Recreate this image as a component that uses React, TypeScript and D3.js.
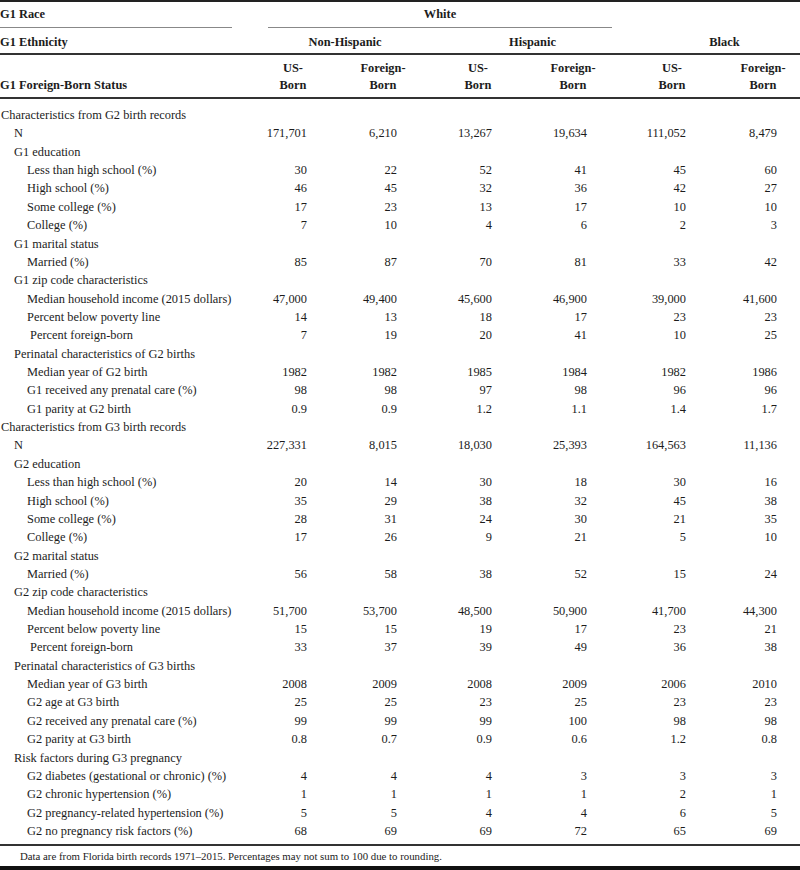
import React from "react"
import * as d3 from "d3"

// header structure
const raceGroups = [
  { label: "White", cols: [0, 3] },
  { label: "Black", cols: [4, 5] },
]
const ethnicGroups = [
  { label: "Non-Hispanic", cols: [0, 1] },
  { label: "Hispanic", cols: [2, 3] },
  { label: "Black", cols: [4, 5] },
]
const statusLabels = [
  ["US-", "Born"], ["Foreign-", "Born"],
  ["US-", "Born"], ["Foreign-", "Born"],
  ["US-", "Born"], ["Foreign-", "Born"],
]

const rowLabels = [
  "Characteristics from G2 birth records",
  "N",
  "G1 education",
  "Less than high school (%)",
  "High school (%)",
  "Some college (%)",
  "College (%)",
  "G1 marital status",
  "Married (%)",
  "G1 zip code characteristics",
  "Median household income (2015 dollars)",
  "Percent below poverty line",
  "\u00a0Percent foreign-born",
  "Perinatal characteristics of G2 births",
  "Median year of G2 birth",
  "G1 received any prenatal care (%)",
  "G1 parity at G2 birth",
  "Characteristics from G3 birth records",
  "N",
  "G2 education",
  "Less than high school (%)",
  "High school (%)",
  "Some college (%)",
  "College (%)",
  "G2 marital status",
  "Married (%)",
  "G2 zip code characteristics",
  "Median household income (2015 dollars)",
  "Percent below poverty line",
  "\u00a0Percent foreign-born",
  "Perinatal characteristics of G3 births",
  "Median year of G3 birth",
  "G2 age at G3 birth",
  "G2 received any prenatal care (%)",
  "G2 parity at G3 birth",
  "Risk factors during G3 pregnancy",
  "G2 diabetes (gestational or chronic) (%)",
  "G2 chronic hypertension (%)",
  "G2 pregnancy-related hypertension (%)",
  "G2 no pregnancy risk factors (%)",
]

// hierarchy depth of each row
const rowDepth = [
  0, 1, 1, 2, 2, 2, 2, 1, 2, 1, 2, 2, 2, 1, 2, 2, 2,
  0, 1, 1, 2, 2, 2, 2, 1, 2, 1, 2, 2, 2, 1, 2, 2, 2, 2, 1, 2, 2, 2, 2,
]

const rowValues: (string[] | null)[] = [
  null,
  ["171,701", "6,210", "13,267", "19,634", "111,052", "8,479"],
  null,
  ["30", "22", "52", "41", "45", "60"],
  ["46", "45", "32", "36", "42", "27"],
  ["17", "23", "13", "17", "10", "10"],
  ["7", "10", "4", "6", "2", "3"],
  null,
  ["85", "87", "70", "81", "33", "42"],
  null,
  ["47,000", "49,400", "45,600", "46,900", "39,000", "41,600"],
  ["14", "13", "18", "17", "23", "23"],
  ["7", "19", "20", "41", "10", "25"],
  null,
  ["1982", "1982", "1985", "1984", "1982", "1986"],
  ["98", "98", "97", "98", "96", "96"],
  ["0.9", "0.9", "1.2", "1.1", "1.4", "1.7"],
  null,
  ["227,331", "8,015", "18,030", "25,393", "164,563", "11,136"],
  null,
  ["20", "14", "30", "18", "30", "16"],
  ["35", "29", "38", "32", "45", "38"],
  ["28", "31", "24", "30", "21", "35"],
  ["17", "26", "9", "21", "5", "10"],
  null,
  ["56", "58", "38", "52", "15", "24"],
  null,
  ["51,700", "53,700", "48,500", "50,900", "41,700", "44,300"],
  ["15", "15", "19", "17", "23", "21"],
  ["33", "37", "39", "49", "36", "38"],
  null,
  ["2008", "2009", "2008", "2009", "2006", "2010"],
  ["25", "25", "23", "25", "23", "23"],
  ["99", "99", "99", "100", "98", "98"],
  ["0.8", "0.7", "0.9", "0.6", "1.2", "0.8"],
  null,
  ["4", "4", "4", "3", "3", "3"],
  ["1", "1", "1", "1", "2", "1"],
  ["5", "5", "4", "4", "6", "5"],
  ["68", "69", "69", "72", "65", "69"],
]

const footnote =
  "Data are from Florida birth records 1971\u20132015. Percentages may not sum to 100 due to rounding."

const W = 800
const H = 870
const font = "'Liberation Serif', 'Times New Roman', serif"
const ink = "#1c1c1c"

export default function App() {
  const colIdx = d3.range(6)
  // right edge of each value column
  const xCol = d3.scaleOrdinal<number, number>().domain(colIdx).range([307, 397, 492, 587, 686, 777])
  const xHead = (i: number) => xCol(i) - 14
  const yRow = d3.scalePoint<number>().domain(d3.range(rowLabels.length)).range([119, 835])
  const xIndent = d3.scaleLinear().domain([0, 2]).range([1, 27])
  const spanCenter = (c: number[]) => (xCol(c[0]) + xCol(c[1])) / 2 - 7

  return (
    <svg width={W} height={H} style={{ position: "absolute", left: 0, top: 0, background: "#fff" }}
      fontFamily={font} fontSize={12.4} fill={ink}>
      <rect x={0} y={0} width={W} height={H} fill="#fff" />
      {/* rules */}
      <line x1={0} x2={W} y1={1} y2={1} stroke="#222" strokeWidth={2} />
      <line x1={0} x2={232} y1={27.5} y2={27.5} stroke="#888" strokeWidth={1} />
      <line x1={268} x2={612} y1={27.5} y2={27.5} stroke="#888" strokeWidth={1} />
      <line x1={0} x2={W} y1={54} y2={54} stroke="#333" strokeWidth={1.8} />
      <line x1={0} x2={W} y1={98} y2={98} stroke="#333" strokeWidth={1.8} />
      <line x1={0} x2={W} y1={845} y2={845} stroke="#333" strokeWidth={1.8} />
      <rect x={0} y={866} width={W} height={4} fill="#111" />

      {/* header */}
      <g fontWeight="bold">
        <text x={0} y={18}>G1 Race</text>
        <text x={0} y={46}>G1 Ethnicity</text>
        <text x={0} y={89}>G1 Foreign-Born Status</text>
        {raceGroups.filter(g => g.label === "White").map(g => (
          <text key={g.label} x={spanCenter(g.cols)} y={18} textAnchor="middle">{g.label}</text>
        ))}
        {ethnicGroups.map(g => (
          <text key={g.label} x={spanCenter(g.cols)} y={46} textAnchor="middle">{g.label}</text>
        ))}
        {statusLabels.map((s, i) => (
          <g key={i}>
            <text x={xHead(i)} y={72} textAnchor="middle">{s[0]}</text>
            <text x={xHead(i)} y={89} textAnchor="middle">{s[1]}</text>
          </g>
        ))}
      </g>

      {/* body */}
      {rowLabels.map((lab, r) => (
        <g key={r}>
          <text x={xIndent(rowDepth[r])} y={yRow(r)} style={{ whiteSpace: "pre" }}>{lab}</text>
          {rowValues[r] && rowValues[r]!.map((v, c) => (
            <text key={c} x={xCol(c)} y={yRow(r)} textAnchor="end">{v}</text>
          ))}
        </g>
      ))}

      <text x={20} y={860} fontSize={10.8}>{footnote}</text>
    </svg>
  )
}
